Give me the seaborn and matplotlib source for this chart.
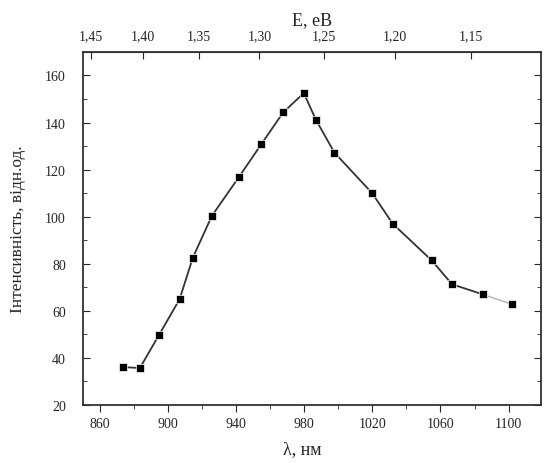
import numpy as np
import pandas as pd
import matplotlib
matplotlib.use("Agg")
import matplotlib.pyplot as plt
from matplotlib.ticker import FuncFormatter
import seaborn as sns

# data
wavelength = [873.7, 883.6, 894.8, 906.9, 914.7, 925.9, 941.9, 954.8, 967.7,
              979.8, 987.1, 997.8, 1019.9, 1032.0, 1054.9, 1066.8, 1084.8, 1101.8]
intensity = [36.1, 35.7, 49.7, 64.9, 82.6, 100.4, 117.0, 130.7, 144.3,
             152.5, 140.9, 127.2, 110.0, 97.0, 81.4, 71.3, 67.0, 62.8]
lam_ticks = [860, 900, 940, 980, 1020, 1060, 1100]
lam_minor = [880, 920, 960, 1000, 1040, 1080]
energy_ticks = [1.45, 1.40, 1.35, 1.30, 1.25, 1.20, 1.15]

df = pd.DataFrame({"lam": wavelength, "I": intensity})

sns.set_style("ticks")
plt.rcParams["font.family"] = ["Liberation Serif", "DejaVu Serif"]

fig = plt.figure(figsize=(5.47, 4.64), dpi=100)
ax = fig.add_axes([0.151, 0.125, 0.838, 0.761])

# line (last segment lighter, as in the original)
sns.lineplot(data=df.iloc[:17], x="lam", y="I", color="#333333", lw=1.3, ax=ax)
sns.lineplot(data=df.iloc[16:], x="lam", y="I", color="#b0b0b0", lw=1.0, ax=ax)
sns.scatterplot(data=df, x="lam", y="I", marker="s", color="black", s=30,
                edgecolor="white", linewidth=0.5, zorder=5, ax=ax)

ax.set_xlim(850, 1119)
ax.set_ylim(20, 170)
ax.set_xticks(lam_ticks)
ax.set_xticks(lam_minor, minor=True)
ax.set_yticks(range(20, 161, 20))
ax.set_yticks(range(30, 171, 20), minor=True)

ax.tick_params(axis="x", which="both", direction="out", top=False, labelsize=10, pad=4)
ax.tick_params(axis="x", which="major", length=5)
ax.tick_params(axis="x", which="minor", length=3)
ax.tick_params(axis="y", which="both", direction="in", right=True, labelsize=10, pad=12)
ax.tick_params(axis="y", which="major", length=5)
ax.tick_params(axis="y", which="minor", length=3)

for s in ax.spines.values():
    s.set_linewidth(1.3)
    s.set_color("#333333")

ax.set_xlabel("λ, нм", fontsize=13, labelpad=8)
ax.xaxis.set_label_coords(0.48, -0.1)
ax.set_ylabel("Інтенсивність, відн.од.", fontsize=12.5, labelpad=14)

# top energy axis
secax = ax.secondary_xaxis("top", functions=(lambda x: 1239.84 / np.asarray(x, dtype=float),
                                             lambda e: 1239.84 / np.asarray(e, dtype=float)))
secax.set_xticks(energy_ticks)
secax.xaxis.set_major_formatter(FuncFormatter(lambda v, p: f"{v:.2f}".replace(".", ",")))
secax.tick_params(direction="in", length=5, labelsize=10, pad=7)
secax.set_xlabel("E, eB", fontsize=13, labelpad=4)

fig.savefig("out.png", dpi=100)
